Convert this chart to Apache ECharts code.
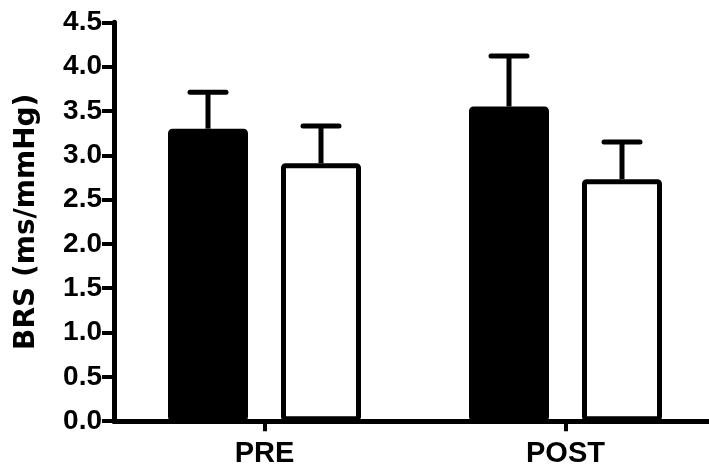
<!DOCTYPE html>
<html>
<head>
<meta charset="utf-8">
<script src="https://cdn.jsdelivr.net/npm/echarts@6/dist/echarts.min.js"></script>
<style>
html,body{margin:0;padding:0;background:#fff;}
#chart{width:709px;height:469px;}
</style>
</head>
<body>
<div id="chart"></div>
<script>
// ---- data ----
var categories = ['PRE', 'POST'];
var group1Means = [3.30, 3.55];   // filled bars
var group1Errors = [0.41, 0.57];
var group2Means = [2.91, 2.73];   // open bars
var group2Errors = [0.42, 0.42];
var yTicks = { min: 0, max: 4.5, interval: 0.5 };
var yAxisTitle = 'BRS (ms/mmHg)';

// ---- style constants ----
var BAR_W = 80;
var BAR_GAP_PX = 33;
var OFFSET = (BAR_W + BAR_GAP_PX) / 2;

function errData(means, errs) {
  return means.map(function (m, i) { return [i, m, errs[i]]; });
}

function errRender(sign) {
  return function (params, api) {
    var idx = api.value(0);
    var mean = api.value(1);
    var err = api.value(2);
    var base = api.coord([idx, mean]);
    var top = api.coord([idx, mean + err]);
    var x = base[0] + sign * OFFSET;
    var capHalf = 20;
    return {
      type: 'group',
      children: [
        { type: 'line', shape: { x1: x, y1: base[1], x2: x, y2: top[1] }, style: { stroke: '#000', lineWidth: 5 } },
        { type: 'line', shape: { x1: x - capHalf + 2, y1: top[1], x2: x + capHalf - 2, y2: top[1] }, style: { stroke: '#000', lineWidth: 5, lineCap: 'round' } }
      ]
    };
  };
}

var chart = echarts.init(document.getElementById('chart'), null, { renderer: 'canvas' });
chart.setOption({
  animation: false,
  backgroundColor: '#fff',
  grid: { left: 114, width: 602, top: 22.3, bottom: 47.8, containLabel: false, outerBoundsMode: 'none' },
  xAxis: {
    type: 'category',
    data: categories,
    axisLine: { show: true, lineStyle: { color: '#000', width: 5 } },
    axisTick: { show: true, alignWithLabel: true, length: 10, lineStyle: { color: '#000', width: 4 } },
    axisLabel: { color: '#000', fontFamily: 'Liberation Sans', fontWeight: 'bold', fontSize: 29, margin: 18 },
    splitLine: { show: false }
  },
  yAxis: {
    type: 'value',
    min: yTicks.min,
    max: yTicks.max,
    interval: yTicks.interval,
    name: yAxisTitle,
    nameLocation: 'middle',
    nameGap: 73,
    nameTextStyle: { color: '#000', fontFamily: 'DejaVu Sans', fontWeight: 'bold', fontSize: 28 },
    axisLine: { show: true, lineStyle: { color: '#000', width: 5 } },
    axisTick: { show: true, length: 12, lineStyle: { color: '#000', width: 4 } },
    axisLabel: {
      color: '#000', fontFamily: 'Liberation Sans', fontWeight: 'bold', fontSize: 28, margin: 12,
      formatter: function (v) { return v.toFixed(1); }
    },
    splitLine: { show: false }
  },
  series: [
    {
      type: 'bar', data: group1Means, barWidth: BAR_W, barGap: (BAR_GAP_PX / BAR_W * 100) + '%',
      itemStyle: { color: '#000', borderColor: '#000', borderWidth: 5, borderRadius: 2 }, z: 2
    },
    {
      type: 'bar', data: group2Means, barWidth: BAR_W,
      itemStyle: { color: '#fff', borderColor: '#000', borderWidth: 5, borderRadius: 2 }, z: 2
    },
    { type: 'custom', data: errData(group1Means, group1Errors), renderItem: errRender(-1), z: 3, encode: { x: 0, y: 1 } },
    { type: 'custom', data: errData(group2Means, group2Errors), renderItem: errRender(1), z: 3, encode: { x: 0, y: 1 } }
  ]
});
</script>
</body>
</html>
